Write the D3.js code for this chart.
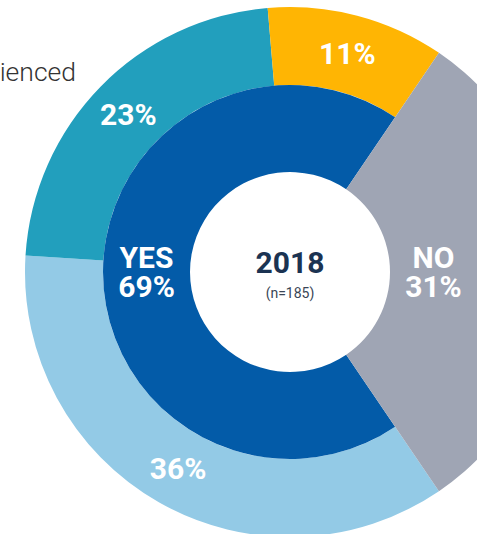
<!DOCTYPE html>
<html><head><meta charset="utf-8">
<script src="https://cdn.jsdelivr.net/npm/d3@7"></script>
<style>html,body{margin:0;padding:0;background:#fff;overflow:hidden}svg{display:block}</style>
</head><body>
<svg id="c" width="477" height="534"></svg>
<script>
const innerCats = ["YES", "NO"];
const innerVals = [69, 31];
const innerColors = ["#035BA8", "#9FA5B4"];
const outerCats = ["Light", "Teal", "Gold"];
const outerVals = [36, 23, 11];
const outerColors = ["#93CAE6", "#229FBD", "#FFB503"];
const centerTitle = "2018";
const centerSub = "(n=185)";
const sideText = "experienced";

const svg = d3.select("#c");
const cx = 290, cy = 272;
const rHole = 100, rMid = 187, rOut = 265;
const g = svg.append("g").attr("transform", `translate(${cx},${cy})`);

const noSpan = 2 * Math.PI * innerVals[1] / d3.sum(innerVals);
const start = Math.PI / 2 + noSpan / 2;

const innerPie = d3.pie().sort(null).startAngle(start).endAngle(start + 2 * Math.PI);
const innerArcs = innerPie(innerVals);

const yesArc = innerArcs[0];
const outerPie = d3.pie().sort(null).startAngle(yesArc.startAngle).endAngle(yesArc.endAngle);
const outerArcs = outerPie(outerVals);

const arcIn = d3.arc().innerRadius(rHole).outerRadius(rMid);
const arcOut = d3.arc().innerRadius(rMid).outerRadius(rOut);
const arcNo = d3.arc().innerRadius(rHole).outerRadius(rOut);

g.selectAll("path.out").data(outerArcs).enter().append("path")
  .attr("d", arcOut).attr("fill", (d, i) => outerColors[i]);
g.append("path").attr("d", arcIn(yesArc)).attr("fill", innerColors[0]);
g.append("path").attr("d", arcNo(innerArcs[1])).attr("fill", innerColors[1]);

const lblFont = "Roboto, 'Noto Sans', sans-serif";
const arcOutLbl = d3.arc().innerRadius(rMid).outerRadius(rOut);
g.selectAll("text.out").data(outerArcs).enter().append("text")
  .attr("transform", d => `translate(${arcOutLbl.centroid(d)})`)
  .attr("text-anchor", "middle").attr("dy", "0.36em")
  .attr("font-family", lblFont).attr("font-weight", 700).attr("font-size", 30)
  .attr("fill", "#fff").text(d => d.data + "%");

const arcInLbl = d3.arc().innerRadius(rHole).outerRadius(rMid);
innerArcs.forEach((d, i) => {
  const [x, y] = arcInLbl.centroid(d);
  const t = g.append("text").attr("text-anchor", "middle")
    .attr("font-family", lblFont).attr("font-weight", 700).attr("font-size", 30)
    .attr("fill", "#fff");
  t.append("tspan").attr("x", x).attr("y", y - 4).text(innerCats[i]);
  t.append("tspan").attr("x", x).attr("y", y + 25).text(innerVals[i] + "%");
});

g.append("text").attr("text-anchor", "middle").attr("y", 1)
  .attr("font-family", lblFont).attr("font-weight", 700).attr("font-size", 30)
  .attr("fill", "#1B3352").text(centerTitle);
g.append("text").attr("text-anchor", "middle").attr("y", 26)
  .attr("font-family", lblFont).attr("font-weight", 400).attr("font-size", 14)
  .attr("fill", "#3A4656").text(centerSub);

svg.append("text").attr("x", 76).attr("y", 81).attr("text-anchor", "end")
  .attr("font-family", lblFont).attr("font-weight", 300).attr("font-size", 26.5)
  .attr("fill", "#333").text(sideText);
</script>
</body></html>
